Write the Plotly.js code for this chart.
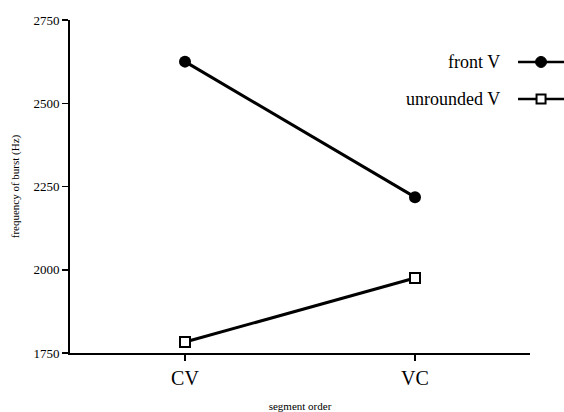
<!DOCTYPE html>
<html>
<head>
<meta charset="utf-8">
<script src="https://cdn.plot.ly/plotly-3.0.1.min.js"></script>
<style>html,body{margin:0;padding:0;background:#fff;}#chart{width:564px;height:412px;}</style>
</head>
<body>
<div id="chart"></div>
<script>
const categories = ["CV", "VC"];
const frontV = [2625, 2218];
const unroundedV = [1783, 1975];
const seriesNames = ["front V", "unrounded V"];
const yTicks = [1750, 2000, 2250, 2500, 2750];

const serif = "Liberation Serif, Times New Roman, serif";

const traces = [
  {
    x: categories, y: frontV, name: seriesNames[0], type: "scatter", mode: "lines+markers",
    line: {color: "#000", width: 3},
    marker: {symbol: "circle", size: 12, color: "#000"},
    cliponaxis: false
  },
  {
    x: categories, y: unroundedV, name: seriesNames[1], type: "scatter", mode: "lines+markers",
    line: {color: "#000", width: 3},
    marker: {symbol: "square", size: 10, color: "#fff", line: {color: "#000", width: 2}},
    cliponaxis: false
  }
];

// legend placed to the right of the labels (drawn as annotations + shapes)
const legY = [0.874, 0.763];
const annotations = seriesNames.map((n, i) => ({
  xref: "paper", yref: "paper", x: 0.940, y: legY[i], xanchor: "right", yanchor: "middle",
  text: n, showarrow: false, font: {family: serif, size: 18, color: "#000"}
}));
const shapes = [];
legY.forEach((yy, i) => {
  shapes.push({type: "line", xref: "paper", yref: "paper", x0: 0.974, x1: 1.08, y0: yy, y1: yy,
    line: {color: "#000", width: 2.5}});
  if (i === 0) {
    shapes.push({type: "circle", xref: "paper", yref: "paper", xsizemode: "pixel", ysizemode: "pixel",
      xanchor: 1.024, yanchor: yy, x0: -5.5, x1: 5.5, y0: -5.5, y1: 5.5,
      fillcolor: "#000", line: {color: "#000", width: 1}});
  } else {
    shapes.push({type: "rect", xref: "paper", yref: "paper", xsizemode: "pixel", ysizemode: "pixel",
      xanchor: 1.024, yanchor: yy, x0: -4.5, x1: 4.5, y0: -4.5, y1: 4.5,
      fillcolor: "#fff", line: {color: "#000", width: 2}});
  }
});

const layout = {
  width: 564, height: 412,
  margin: {l: 70, r: 34, t: 20, b: 59},
  paper_bgcolor: "#fff", plot_bgcolor: "#fff",
  showlegend: false,
  font: {family: serif, color: "#000"},
  xaxis: {
    type: "category", range: [-0.5, 1.5],
    showline: true, linecolor: "#000", linewidth: 2,
    showgrid: false, zeroline: false,
    ticks: "outside", ticklen: 6, tickwidth: 1.5, tickcolor: "#000",
    tickfont: {family: serif, size: 20, color: "#000"},
    title: {text: "segment order", font: {family: serif, size: 11, color: "#000"}, standoff: 28}
  },
  yaxis: {
    range: [1750, 2750], tickvals: yTicks, ticktext: yTicks.map(String),
    showline: true, linecolor: "#000", linewidth: 2,
    showgrid: false, zeroline: false,
    ticks: "outside", ticklen: 6, tickwidth: 1.5, tickcolor: "#000",
    tickfont: {family: serif, size: 13, color: "#000"},
    title: {text: "frequency of burst (Hz)", font: {family: serif, size: 11, color: "#000"}, standoff: 12}
  },
  annotations: annotations,
  shapes: shapes
};

Plotly.newPlot("chart", traces, layout, {displayModeBar: false, staticPlot: true});
</script>
</body>
</html>
